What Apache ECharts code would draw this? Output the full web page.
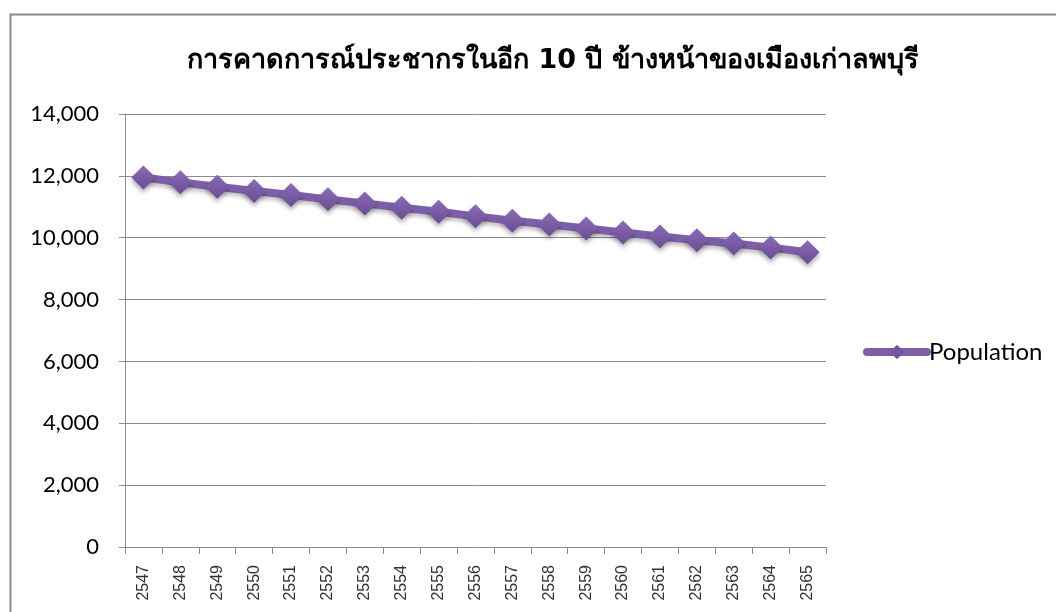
<!DOCTYPE html>
<html>
<head>
<meta charset="utf-8">
<style>
  html, body { margin: 0; padding: 0; background: #ffffff; }
  #chart { width: 1056px; height: 612px; }
</style>
<script src="https://cdn.jsdelivr.net/npm/echarts@6/dist/echarts.min.js"></script>
</head>
<body>
<div id="chart"></div>
<script>
// Projected population of เมืองเก่าลพบุรี, Buddhist-era years
const titleText = 'การคาดการณ์ประชากรในอีก 10 ปี ข้างหน้าของเมืองเก่าลพบุรี';
const seriesName = 'Population';
const years = ['2547', '2548', '2549', '2550', '2551', '2552', '2553', '2554', '2555', '2556',
               '2557', '2558', '2559', '2560', '2561', '2562', '2563', '2564', '2565'];
const population = [11950, 11790, 11650, 11510, 11380, 11240, 11110, 10970, 10840, 10690,
                    10550, 10430, 10300, 10170, 10040, 9920, 9810, 9680, 9530];
const yMin = 0, yMax = 14000, yStep = 2000;

const purple = '#7d5fa8';
const gridGray = '#8c8c8c';

const chart = echarts.init(document.getElementById('chart'), null, { renderer: 'canvas' });

chart.setOption({
  backgroundColor: '#ffffff',
  animation: false,
  title: {
    text: titleText,
    left: 548,
    textAlign: 'center',
    top: 42,
    textStyle: {
      fontFamily: 'Tahoma, "DejaVu Sans", "Noto Sans", sans-serif',
      fontSize: 27,
      fontWeight: 'bold',
      color: '#000000'
    }
  },
  legend: {
    data: [seriesName],
    orient: 'vertical',
    left: 858,
    top: 335,
    itemWidth: 60,
    itemHeight: 18,
    itemGap: 0,
    lineStyle: { width: 8, cap: 'round', color: purple },
    itemStyle: { color: '#7356a0' },
    textStyle: {
      fontFamily: 'Lato, "Open Sans", sans-serif',
      fontSize: 24,
      color: '#000000',
      padding: [0, 0, 0, -3]
    }
  },
  grid: { left: 125, right: 230, top: 114, bottom: 65, containLabel: false },
  xAxis: {
    type: 'category',
    data: years,
    boundaryGap: true,
    axisLine: { show: true, lineStyle: { color: gridGray, width: 1 } },
    axisTick: { show: true, alignWithLabel: false, length: 7, lineStyle: { color: gridGray } },
    axisLabel: {
      rotate: 90,
      interval: 0,
      margin: 18,
      fontFamily: '"Liberation Sans", Arial, sans-serif',
      fontSize: 16,
      color: '#333333'
    },
    splitLine: { show: false }
  },
  yAxis: {
    type: 'value',
    min: yMin,
    max: yMax,
    interval: yStep,
    axisLine: { show: true, lineStyle: { color: gridGray, width: 1 } },
    axisTick: { show: true, inside: false, length: 6, lineStyle: { color: gridGray } },
    axisLabel: {
      margin: 26,
      fontFamily: 'Lato, "Open Sans", sans-serif',
      fontSize: 22,
      color: '#000000',
      formatter: v => v.toLocaleString('en-US')
    },
    splitLine: { show: true, lineStyle: { color: gridGray, width: 1 } }
  },
  series: [{
    name: seriesName,
    type: 'line',
    data: population,
    symbol: 'diamond',
    symbolSize: 24,
    lineStyle: {
      color: purple,
      width: 8,
      shadowColor: 'rgba(0,0,0,0.25)',
      shadowBlur: 4,
      shadowOffsetY: 3
    },
    itemStyle: {
      color: new echarts.graphic.LinearGradient(0, 0, 0, 1, [
        { offset: 0, color: '#8a6bb5' },
        { offset: 1, color: '#6a4d96' }
      ]),
      shadowColor: 'rgba(0,0,0,0.35)',
      shadowBlur: 5,
      shadowOffsetY: 3
    },
    z: 3
  }],
  graphic: [{
    type: 'rect',
    left: 8,
    top: 12,
    shape: { width: 1100, height: 700 },
    style: { fill: 'none', stroke: '#8a8a8a', lineWidth: 2 },
    silent: true,
    z: -1
  }]
});
</script>
</body>
</html>
